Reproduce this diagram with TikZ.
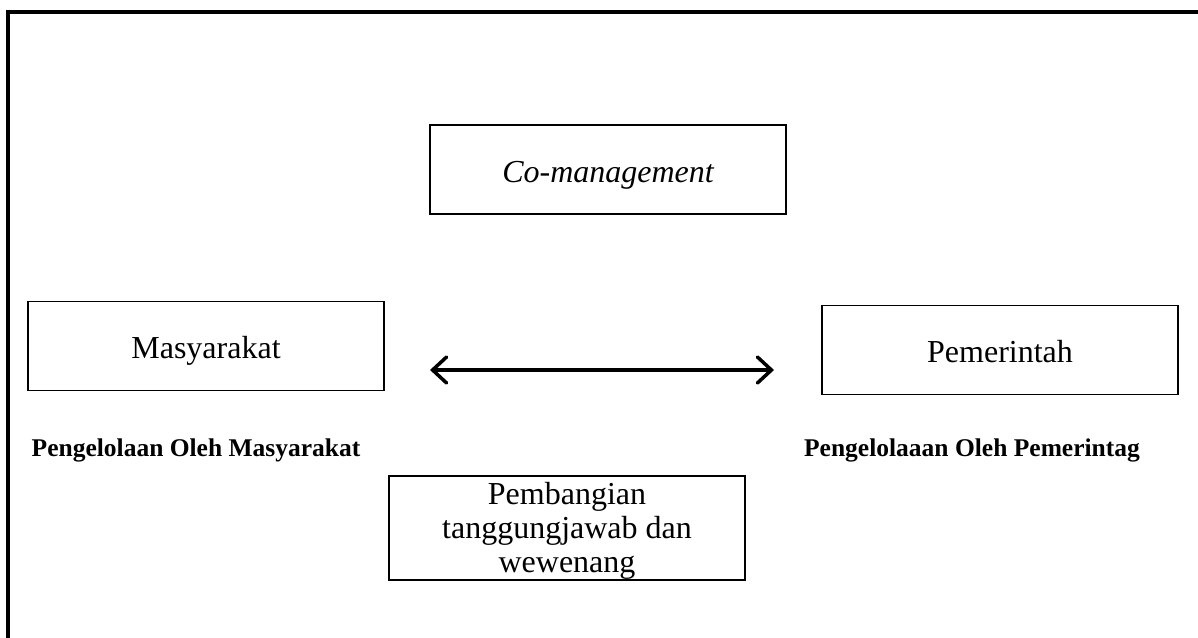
\documentclass[tikz,border=0pt]{standalone}
\usepackage{fontspec}
\setmainfont{Liberation Serif}
\usetikzlibrary{arrows.meta}
\begin{document}
\begin{tikzpicture}[x=1pt,y=-1pt,
		kotak/.style={draw,line width=1.3pt,minimum width=356pt,minimum height=89pt,inner sep=0pt,
			text height=25pt,text depth=0pt,font=\fontsize{32}{37}\selectfont},
		ket/.style={font=\fontsize{25.5}{30}\selectfont\bfseries},
		panah/.tip={Straight Barb[length=14pt,width=26pt,line width=3.5pt,line cap=round]}]
			\useasboundingbox (0,0) rectangle (1198,637);
			\path[draw,line width=4pt] (8,640) -- (8,12) -- (1202,12);

			\node[kotak] (co) at (608,169.5) {\itshape Co-management};
			\node[kotak] (mas) at (206,346) {Masyarakat};
			\node[kotak] (pem) at (1000,350) {Pemerintah};
			\node[kotak,minimum height=104pt] (bagi) at (567,528) {};
			\node[align=center,font=\fontsize{32}{34}\selectfont] (bagiteks) at (567,531) {Pembangian\\tanggungjawab dan\\wewenang};

			\node[ket] (kmas) at (196,450) {Pengelolaan Oleh Masyarakat};
			\node[ket] (kpem) at (972,450) {Pengelolaaan Oleh Pemerintag};

			\coordinate (l) at (430,370);
			\coordinate (r) at (774,370);
			\path[panah-panah,draw,line width=3.5pt] (l) -- (r);
		\end{tikzpicture}
\end{document}
